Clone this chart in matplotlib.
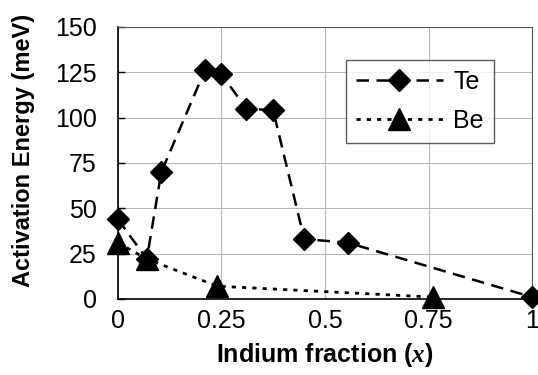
import matplotlib
matplotlib.use("Agg")
import matplotlib.pyplot as plt

plt.rcParams['font.family'] = ['Liberation Sans', 'DejaVu Sans']
plt.rcParams['mathtext.fontset'] = 'custom'
plt.rcParams['mathtext.it'] = 'Liberation Serif:italic:bold'
plt.rcParams['mathtext.rm'] = 'Liberation Sans:bold'

te_x = [0.0, 0.07, 0.105, 0.21, 0.25, 0.31, 0.375, 0.45, 0.555, 1.0]
te_y = [44, 22, 70, 126, 124, 105, 104, 33, 31, 1]
be_x = [0.0, 0.07, 0.24, 0.76]
be_y = [31, 22, 7, 1]

xticks = [0, 0.25, 0.5, 0.75, 1]
xtick_labels = ['0', '0.25', '0.5', '0.75', '1']
yticks = [0, 25, 50, 75, 100, 125, 150]

fig = plt.figure(figsize=(5.38, 3.75), dpi=100)
ax = fig.add_axes([0.219, 0.203, 0.770, 0.725])

ax.plot(be_x, be_y, linestyle=(0, (1.5, 2.2)), color='black', lw=2,
        marker='^', markersize=16, markerfacecolor='black', clip_on=False,
        label='Be', zorder=3)
ax.plot(te_x, te_y, linestyle=(0, (5, 3)), color='black', lw=1.8,
        marker='D', markersize=11, markerfacecolor='black', clip_on=False,
        label='Te', zorder=4)

ax.set_xlim(0, 1)
ax.set_ylim(0, 150)
ax.set_xticks(xticks)
ax.set_xticklabels(xtick_labels)
ax.set_yticks(yticks)
ax.tick_params(axis='both', labelsize=18, direction='in', length=5, width=1)
ax.tick_params(axis='x', pad=7, length=0)
ax.tick_params(axis='y', pad=15)
ax.grid(True, color='#b8b8b8', lw=0.8)
ax.set_axisbelow(True)
for s in ['top', 'right']:
    ax.spines[s].set_color('#555555')
for s in ['left', 'bottom']:
    ax.spines[s].set_color('black')
    ax.spines[s].set_linewidth(1.2)

ax.set_ylabel('Activation Energy (meV)', fontsize=17, fontweight='bold')
ax.yaxis.set_label_coords(-0.2, 0.545)
ax.set_xlabel(r'Indium fraction ($x$)', fontsize=18, fontweight='bold', labelpad=6)

handles, labels = ax.get_legend_handles_labels()
leg = ax.legend(handles[::-1], labels[::-1], loc='upper left',
                bbox_to_anchor=(0.55, 0.88), borderaxespad=0, fontsize=18,
                frameon=True, fancybox=False, edgecolor='#333333',
                handlelength=3.5, borderpad=0.4, labelspacing=0.6,
                handletextpad=0.4)
leg.get_frame().set_linewidth(1.0)

fig.savefig('out.png', dpi=100)
